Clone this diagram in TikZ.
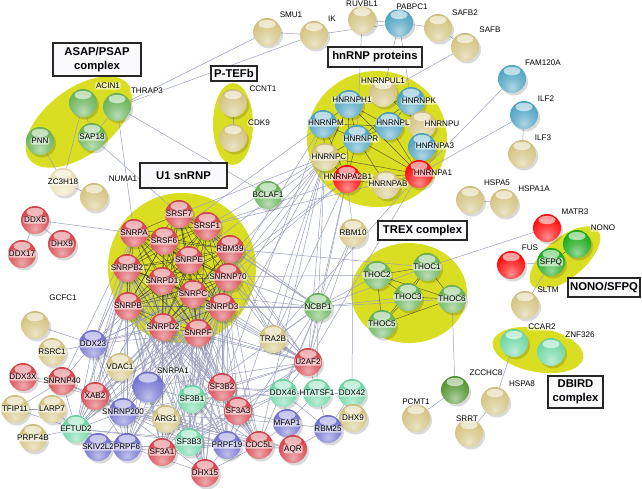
\documentclass[tikz,border=0pt]{standalone}
\usepackage{fontspec}
\setmainfont{Liberation Sans}
\usetikzlibrary{shadings}
\pgfdeclarelayer{bg}\pgfdeclarelayer{edges}\pgfdeclarelayer{fg}
\pgfsetlayers{bg,edges,main,fg}
\definecolor{yel}{RGB}{218,222,34}
\definecolor{cred}{RGB}{215,70,78}
\definecolor{cbright}{RGB}{255,12,12}
\definecolor{ctan}{RGB}{212,196,130}
\definecolor{cblue}{RGB}{80,165,195}
\definecolor{cgreen}{RGB}{105,180,90}
\definecolor{cgreenb}{RGB}{30,170,30}
\definecolor{cdgreen}{RGB}{85,150,50}
\definecolor{cmint}{RGB}{110,215,165}
\definecolor{cpurple}{RGB}{115,115,210}
\definecolor{czc}{RGB}{235,225,180}
\definecolor{edgec}{RGB}{155,160,190}
\definecolor{edged}{RGB}{65,65,50}
\definecolor{boxfill}{RGB}{250,250,252}
\colorlet{sbc}{red}
\pgfdeclareradialshading[sbc]{sball}{\pgfpoint{0bp}{-16bp}}{color(0bp)=(sbc!45!white); color(14bp)=(sbc!75!white); color(30bp)=(sbc); color(48bp)=(sbc!80!black); color(60bp)=(sbc!55!black); color(80bp)=(sbc!55!black)}
\tikzset{
 pb/.style={circle, minimum size=28pt, inner sep=0pt, shade, shading=sball},
 lbl/.style={font=\fontsize{8.1}{9}\selectfont, fill=white, fill opacity=0.6, text opacity=1, inner sep=0.8pt, rounded corners=2pt},
 le/.style={draw=edgec, line width=0.5pt},
 de/.style={draw=edged, line width=0.45pt, draw opacity=0.85},
 cbox/.style={draw=black!85, line width=1.2pt, fill=boxfill, font=\bfseries\fontsize{11.3}{14}\selectfont, align=center, inner sep=0pt},
 blob/.style={fill=yel},
 shadowc/.style={fill=black, opacity=0.15},
 hilite/.style={fill=white, opacity=0.6}
}
\newcommand\Pn[3]{%
  \fill[shadowc] (#2) ++(2,2.5) circle[radius=14];
  \colorlet{sbc}{#3}%
  \node[pb] (#1) at (#2) {};
  \fill[hilite] (#2) ++(0,-8) ellipse [x radius=8.5, y radius=4.2];}
\newcommand\Lb[2]{\begin{pgfonlayer}{fg}\node[lbl] at (#1) {#2};\end{pgfonlayer}}
\newcommand\Pl[3]{\Pn{#1}{#2}{#3}\Lb{#1}{#1}}
\begin{document}
\begin{tikzpicture}[x=1pt,y=-1pt]
\useasboundingbox (0,0) rectangle (642,488);
% yellow complexes
\begin{pgfonlayer}{bg}
\fill[white] (0,0) rectangle (642,488);
\fill[blob, rotate around={37:(79,122)}] (79,122) ellipse [x radius=62, y radius=33];
\fill[blob] (233,124) ellipse [x radius=20, y radius=41];
\fill[blob] (377,139) ellipse [x radius=70, y radius=68];
\fill[blob] (182,268) ellipse [x radius=74, y radius=75];
\fill[blob] (409,293) ellipse [x radius=58, y radius=50];
\fill[blob, rotate around={40:(565,258)}] (565,258) ellipse [x radius=43, y radius=20];
\fill[blob, rotate around={-10:(538,350)}] (538,350) ellipse [x radius=46, y radius=22];
\end{pgfonlayer}
% nodes
\Pn{ACIN1}{83,103}{cgreen}\Lb{108,86}{ACIN1}
\Pn{THRAP3}{117,107}{cgreen}\Lb{147,91}{THRAP3}
\Pl{SAP18}{92,137}{cgreen}
\Pl{PNN}{40,141}{cgreen}
\Pl{ZC3H18}{63,182}{czc}
\Pn{NUMA1}{94,197}{ctan}\Lb{123,179}{NUMA1}
\Pn{SMU1}{267,32}{ctan}\Lb{291,15}{SMU1}
\Pn{IK}{314,35}{ctan}\Lb{332,19}{IK}
\Pn{RUVBL1}{362,20}{ctan}\Lb{362,4}{RUVBL1}
\Pn{PABPC1}{399,23}{cblue}\Lb{412,7}{PABPC1}
\Pn{SAFB2}{438,28}{ctan}\Lb{465,13}{SAFB2}
\Pn{SAFB}{465,47}{ctan}\Lb{490,30}{SAFB}
\Pn{CCNT1}{233,103}{ctan}\Lb{263,89}{CCNT1}
\Pn{CDK9}{233,138}{ctan}\Lb{259,123}{CDK9}
\Pn{HNRNPUL1}{383,93}{ctan}\Lb{383,81}{HNRNPUL1}
\Pn{HNRNPH1}{349,104}{cblue}\Lb{352,100}{HNRNPH1}
\Pn{HNRNPK}{411,101}{cblue}\Lb{419,101}{HNRNPK}
\Pn{HNRNPM}{323,124}{cblue}\Lb{326,123}{HNRNPM}
\Pn{HNRNPU}{422,125}{ctan}\Lb{442,124}{HNRNPU}
\Pn{HNRNPL}{389,126}{cblue}\Lb{393,123}{HNRNPL}
\Pn{HNRNPR}{357,139}{cblue}\Lb{361,139}{HNRNPR}
\Pn{HNRNPA3}{422,147}{cblue}\Lb{435,146}{HNRNPA3}
\Pn{HNRNPC}{325,157}{ctan}\Lb{329,157}{HNRNPC}
\Pn{HNRNPA2B1}{347,179}{cbright}\Lb{348,177}{HNRNPA2B1}
\Pn{HNRNPAB}{386,185}{ctan}\Lb{388,184}{HNRNPAB}
\Pn{HNRNPA1}{419,174}{cbright}\Lb{433,173}{HNRNPA1}
\Pn{FAM120A}{512,79}{cblue}\Lb{543,63}{FAM120A}
\Pn{ILF2}{524,115}{cblue}\Lb{546,99}{ILF2}
\Pn{ILF3}{522,154}{ctan}\Lb{543,138}{ILF3}
\Pl{DDX5}{35,220}{cred}
\Pl{DDX17}{22,254}{cred}
\Pl{DHX9}{62,244}{cred}
\Pl{SRSF7}{179,214}{cred}
\Pl{SRSF1}{207,226}{cred}
\Pl{SNRPA}{134,233}{cred}
\Pl{SRSF6}{164,241}{cred}
\Pl{SNRPE}{189,260}{cred}
\Pl{SNRPB2}{127,268}{cred}
\Pl{SNRPD1}{162,281}{cred}
\Pl{SNRPC}{193,294}{cred}
\Pl{SNRPB}{128,306}{cred}
\Pl{RBM39}{230,249}{cred}
\Pl{SNRNP70}{228,277}{cred}
\Pl{SNRPD3}{222,307}{cred}
\Pl{SNRPD2}{163,327}{cred}
\Pl{SNRPF}{198,333}{cred}
\Pl{BCLAF1}{268,195}{cgreen}
\Pl{RBM10}{353,233}{ctan}
\Pl{THOC2}{377,275}{cgreen}
\Pl{THOC1}{427,267}{cgreen}
\Pl{THOC3}{408,297}{cgreen}
\Pl{THOC6}{452,299}{cgreen}
\Pl{THOC5}{382,324}{cgreen}
\Pl{NCBP1}{318,307}{cgreen}
\Pn{HSPA5}{470,200}{ctan}\Lb{497,183}{HSPA5}
\Pn{HSPA1A}{504,203}{ctan}\Lb{534,189}{HSPA1A}
\Pn{MATR3}{547,228}{cbright}\Lb{575,212}{MATR3}
\Pn{NONO}{577,244}{cgreenb}\Lb{603,228}{NONO}
\Pn{FUS}{511,265}{cbright}\Lb{530,248}{FUS}
\Pl{SFPQ}{551,262}{cgreenb}
\Pn{SLTM}{525,305}{ctan}\Lb{548,290}{SLTM}
\Pn{GCFC1}{35,325}{ctan}\Lb{63,298}{GCFC1}
\Pl{RSRC1}{52,352}{ctan}
\Pl{DDX23}{93,344}{cpurple}
\Pl{VDAC1}{120,367}{ctan}
\fill[shadowc] (148,387) ++(2,2.5) circle[radius=15.5];
\colorlet{sbc}{cpurple}
\node[pb, minimum size=31pt] (SNRPA1) at (148,387) {};
\fill[hilite] (148,378) ellipse [x radius=9.5, y radius=4.6];
\Lb{173,371}{SNRPA1}
\Pl{DDX3X}{23,377}{cred}
\Pl{SNRNP40}{62,381}{cred}
\Pl{XAB2}{95,396}{cred}
\Pl{TFIP11}{15,409}{ctan}
\Pl{LARP7}{52,409}{ctan}
\Pl{SNRNP200}{123,412}{cpurple}
\Pl{ARG1}{166,419}{ctan}
\Pl{SF3B1}{192,399}{cmint}
\Pl{EFTUD2}{76,429}{cmint}
\Pl{PRPF4B}{33,438}{ctan}
\Pl{SKIV2L2}{98,447}{cpurple}
\Pl{PRPF6}{127,447}{cpurple}
\Pl{SF3A1}{162,452}{cred}
\Pl{SF3B3}{189,442}{cmint}
\Pl{DHX15}{205,473}{cred}
\Pl{TRA2B}{273,339}{ctan}
\Pl{U2AF2}{308,362}{cred}
\Pl{SF3B2}{222,387}{cred}
\Pl{DDX46}{283,393}{cmint}
\Pl{HTATSF1}{317,393}{cmint}
\Pl{DDX42}{352,393}{cmint}
\Pl{SF3A3}{238,411}{cred}
\Pl{MFAP1}{287,423}{cpurple}
\Pn{DHX9b}{353,418}{ctan}\Lb{DHX9b}{DHX9}
\Pl{RBM25}{328,429}{cpurple}
\Pl{PRPF19}{227,445}{cpurple}
\Pl{CDC5L}{259,445}{cred}
\Pl{AQR}{293,449}{cred}
\Pn{PCMT1}{416,418}{ctan}\Lb{416,402}{PCMT1}
\Pn{CCAR2}{514,343}{cmint}\Lb{542,327}{CCAR2}
\Pn{ZNF326}{551,352}{cmint}\Lb{580,335}{ZNF326}
\Pn{ZCCHC8}{455,390}{cdgreen}\Lb{486,373}{ZCCHC8}
\Pn{HSPA8}{495,401}{ctan}\Lb{522,384}{HSPA8}
\Pn{SRRT}{469,433}{ctan}\Lb{467,419}{SRRT}
% edges
\begin{pgfonlayer}{edges}
\foreach \a/\b in {ACIN1/SAP18,ACIN1/ZC3H18,PNN/ZC3H18,THRAP3/SAP18,THRAP3/SNRPA,THRAP3/SMU1,THRAP3/IK,THRAP3/BCLAF1,SAP18/SRSF7,ZC3H18/NUMA1,DDX5/DDX17,DDX5/DHX9,DDX5/SNRPA,SMU1/IK,IK/PABPC1,RUVBL1/PABPC1,PABPC1/SAFB2,SAFB2/SAFB,RUVBL1/HNRNPR,PABPC1/HNRNPK,PABPC1/HNRNPUL1,SAFB/HNRNPUL1,CCNT1/CDK9,FAM120A/HNRNPA1,ILF2/HNRNPA1,ILF2/ILF3,HSPA5/HSPA1A,MATR3/THOC1,FUS/SFPQ,SFPQ/SLTM,CCAR2/HSPA8,HSPA8/SRRT,ZCCHC8/PCMT1,THOC6/ZCCHC8,RBM10/HNRNPA2B1,RBM10/NCBP1,RBM10/DDX42,RBM10/U2AF2,SNRNP70/THOC2,RBM39/THOC1}
  \draw[le] (\a)--(\b);
\foreach \c/\l in {NCBP1/{THOC2,THOC3,THOC6,THOC1,HNRNPC,HNRNPA2B1,SNRNP70,SNRPD3,SNRPC,SRSF1,SRSF7,U2AF2,HTATSF1,DDX46,SF3B1,TRA2B,PRPF19,CDC5L,SNRPB,RBM39},
HNRNPC/{SNRNP70,SNRPE,SRSF1,SNRPC,SNRPD3,U2AF2,SF3B1,PRPF19,CDC5L,TRA2B,SRSF7},
HNRNPA2B1/{SNRNP70,SRSF1,U2AF2,TRA2B,SNRPC},
HNRNPM/{SNRNP70,SNRPB2,SF3B2},
HNRNPA1/{SRSF1,TRA2B,U2AF2},
SNRNP200/{PRPF6,SKIV2L2,EFTUD2,DDX23,XAB2,SNRNP40,PRPF19,CDC5L,AQR,DHX15,SF3B1,SF3B3,SNRPA1,MFAP1,VDAC1,ARG1},
PRPF6/{EFTUD2,DDX23,SKIV2L2,PRPF19,CDC5L,XAB2,SF3A1},
EFTUD2/{DDX23,SNRNP40,TFIP11,LARP7,PRPF4B,XAB2,SKIV2L2,PRPF19,CDC5L,DHX15},
SF3B1/{SF3B3,SF3A1,SF3B2,SF3A3,U2AF2,DDX46,HTATSF1,DHX15,PRPF19,CDC5L,SNRPA1},
SF3B3/{SF3A1,SF3B2,SF3A3,DHX15,PRPF19,DDX46},
SF3B2/{SF3A3,U2AF2,DDX46,HTATSF1,SF3A1,CDC5L,PRPF19},
SF3A3/{SF3A1,CDC5L,PRPF19,MFAP1,DDX46,U2AF2},
CDC5L/{PRPF19,AQR,MFAP1,XAB2,DHX15},
PRPF19/{AQR,XAB2,DHX15,SF3A1},
U2AF2/{DDX46,HTATSF1,TRA2B,SF3A1},
DDX46/{HTATSF1,MFAP1,RBM25},
HTATSF1/{DDX42,RBM25,MFAP1},
DDX42/{DHX9b,RBM25},
RBM25/{MFAP1,AQR,DHX9b},
MFAP1/{AQR},
XAB2/{SNRNP40,DDX23,AQR},
DDX23/{RSRC1,GCFC1,SNRNP40,VDAC1},
SNRNP40/{DDX3X,LARP7,TFIP11},
TFIP11/{LARP7},
SNRPA1/{SF3A1,U2AF2,SF3B3},
SNRPA/{DDX23,SNRNP40,XAB2,EFTUD2},
SNRPB2/{DDX23,XAB2},
SNRNP70/{U2AF2,TRA2B},
SRSF1/{TRA2B,U2AF2},
RBM39/{U2AF2,TRA2B,SF3B1},
DDX3X/{XAB2}}
  {\foreach \t in \l {\draw[le] (\c)--(\t);}}
\foreach \a in {SNRPB,SNRPD2,SNRPF,SNRPD3,SNRNP70,SNRPD1,SNRPB2,SNRPC}
  {\foreach \b in {SNRNP200,PRPF6,SF3B1,SF3B3,SF3A1,SF3B2,SF3A3,PRPF19,CDC5L,DHX15,DDX23,EFTUD2,U2AF2,SNRPA1,XAB2}
    {\draw[le] (\a)--(\b);}}
% U1 core
\foreach \a [count=\i] in {SNRPA,SRSF7,SRSF1,SRSF6,SNRPE,SNRPB2,SNRPD1,SNRPC,SNRPB,RBM39,SNRNP70,SNRPD3,SNRPD2,SNRPF}
  {\foreach \b [count=\j] in {SNRPA,SRSF7,SRSF1,SRSF6,SNRPE,SNRPB2,SNRPD1,SNRPC,SNRPB,RBM39,SNRNP70,SNRPD3,SNRPD2,SNRPF}
    {\ifnum\j>\i \draw[de] (\a)--(\b);\fi}}
% hnRNP core
\foreach \a/\b in {HNRNPH1/HNRNPM,HNRNPH1/HNRNPR,HNRNPH1/HNRNPL,HNRNPH1/HNRNPK,HNRNPH1/HNRNPC,HNRNPH1/HNRNPA1,HNRNPK/HNRNPL,HNRNPK/HNRNPU,HNRNPK/HNRNPA3,HNRNPK/HNRNPR,HNRNPM/HNRNPR,HNRNPM/HNRNPC,HNRNPM/HNRNPL,HNRNPL/HNRNPR,HNRNPL/HNRNPA1,HNRNPL/HNRNPU,HNRNPR/HNRNPC,HNRNPR/HNRNPA2B1,HNRNPR/HNRNPAB,HNRNPR/HNRNPA1,HNRNPU/HNRNPA1,HNRNPU/HNRNPA3,HNRNPA3/HNRNPA1,HNRNPC/HNRNPA2B1,HNRNPC/HNRNPA1,HNRNPA2B1/HNRNPAB,HNRNPA2B1/HNRNPA1,HNRNPAB/HNRNPA1,HNRNPUL1/HNRNPU,HNRNPUL1/HNRNPK,HNRNPM/HNRNPA2B1,HNRNPH1/HNRNPA2B1,HNRNPK/HNRNPA1}
  \draw[de] (\a)--(\b);
% TREX core
\foreach \a/\b in {THOC2/THOC1,THOC2/THOC3,THOC1/THOC6,THOC3/THOC6,THOC5/THOC6,THOC2/THOC5,THOC3/THOC5,THOC1/THOC3,THOC2/THOC6,THOC1/THOC5,SFPQ/NONO}
  \draw[de] (\a)--(\b);
\end{pgfonlayer}
% complex labels
\begin{pgfonlayer}{fg}
\node[cbox, minimum width=88pt, minimum height=33pt] (bxA) at (97,59.5) {ASAP/PSAP\\complex};
\node[cbox, minimum width=46pt, minimum height=15pt] (bxP) at (234,73.5) {P-TEFb};
\node[cbox, minimum width=94pt, minimum height=20pt] (bxH) at (375,57) {hnRNP proteins};
\node[cbox, minimum width=87pt, minimum height=25pt] (bxU) at (183.5,175.5) {U1 snRNP};
\node[cbox, minimum width=89pt, minimum height=19pt] (bxT) at (422.5,230.5) {TREX complex};
\node[cbox, minimum width=72pt, minimum height=19pt] (bxN) at (604,287.5) {NONO/SFPQ};
\node[cbox, minimum width=55pt, minimum height=32pt] (bxD) at (575.5,392) {DBIRD\\complex};
\end{pgfonlayer}
\end{tikzpicture}
\end{document}
